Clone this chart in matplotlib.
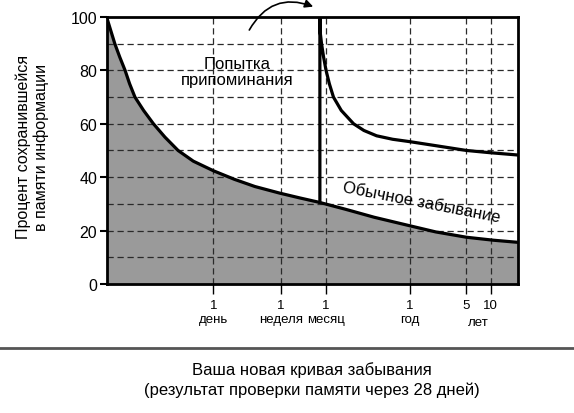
import matplotlib.pyplot as plt
import matplotlib.transforms as mtransforms

plt.rcParams["font.family"] = ["Liberation Sans", "DejaVu Sans"]

# x axis is a compressed (log-like) time scale, 0..100 across the plot
tick_pos = [25.9, 42.3, 53.3, 73.7, 87.3, 93.4]
tick_labels = ["1\nдень", "1\nнеделя", "1\nмесяц", "1\nгод", "5", "10"]
years_label_x = 90.3

# usual forgetting curve
forget_x = [0, 1.0, 1.9, 3.1, 4.4, 5.5, 6.8, 8.9, 11.3, 14.1, 17.3, 21.0, 25.9,
            31.0, 36.0, 42.1, 47.0, 51.6, 58.0, 65.0, 73.7, 80.0, 87.5, 94.0, 100]
forget_y = [99.5, 94.5, 90.0, 85.0, 80.0, 75.0, 70.0, 65.0, 60.0, 55.0, 50.0, 46.0,
            42.4, 39.2, 36.5, 34.0, 32.2, 30.6, 28.0, 25.0, 21.8, 19.5, 17.5, 16.4, 15.6]

# curve after the recall attempt
recall_x = [51.8, 51.8, 51.9, 52.2, 52.7, 53.3, 54.1, 55.1, 57.0, 60.0, 62.5,
            65.6, 69.5, 73.7, 80.0, 87.5, 93.0, 100]
recall_y = [30.6, 100, 94.0, 90.0, 85.0, 80.0, 75.0, 70.0, 65.0, 60.0, 57.5,
            55.5, 54.2, 53.3, 51.8, 50.0, 49.2, 48.3]

fig = plt.figure(figsize=(5.74, 4.14), dpi=100)
ax = fig.add_axes([0.1864, 0.3116, 0.716, 0.645])

ax.fill_between(forget_x, forget_y, 0, color="#9a9a9a", zorder=1, linewidth=0)
ax.plot(forget_x, forget_y, color="black", lw=2.3, zorder=3)
ax.plot(recall_x, recall_y, color="black", lw=2.3, zorder=3, solid_joinstyle="miter")

ax.set_xlim(0, 100)
ax.set_ylim(0, 100)

# dashed grid
for y in range(10, 100, 10):
    ax.axhline(y, color="#2a2a2a", lw=0.9, ls=(0, (5, 3)), zorder=2)
for x in tick_pos:
    ax.axvline(x, color="#2a2a2a", lw=0.9, ls=(0, (5, 3)), zorder=2)

ax.set_yticks(range(0, 101, 20))
ax.set_xticks(tick_pos)
ax.set_xticklabels(tick_labels, fontsize=9.5, linespacing=1.2, va="top")
ax.tick_params(axis="y", labelsize=11.5, length=5, width=1.5, pad=2)
ax.tick_params(axis="x", length=7, width=1.0, pad=4)
for s in ax.spines.values():
    s.set_linewidth(2)
    s.set_zorder(4)

trans = mtransforms.blended_transform_factory(ax.transData, ax.transAxes)
ax.text(years_label_x, -0.142, "лет", transform=trans, ha="center", va="center",
        fontsize=9.5)

ax.text(31.6, 79.5, "Попытка\nприпоминания", ha="center", va="center",
        fontsize=12, linespacing=1.1, zorder=5)
ax.text(76.4, 30.7, "Обычное забывание", ha="center", va="center",
        fontsize=12, rotation=-11, zorder=5)

ax.annotate("", xy=(50.8, 103.5), xytext=(34.3, 94.2),
            arrowprops=dict(arrowstyle="-|>", color="black", lw=1.2,
                            connectionstyle="arc3,rad=-0.45",
                            mutation_scale=12),
            annotation_clip=False, zorder=6)

fig.text(0.056, 0.645, "Процент сохранившейся\nв памяти информации",
         rotation=90, ha="center", va="center", fontsize=11.5,
         multialignment="center", linespacing=1.15)

fig.add_artist(plt.Line2D([0, 1], [0.157, 0.157], color="#555555", lw=2,
                          transform=fig.transFigure))
fig.text(0.544, 0.106, "Ваша новая кривая забывания", ha="center",
         va="center", fontsize=12)
fig.text(0.544, 0.058, "(результат проверки памяти через 28 дней)",
         ha="center", va="center", fontsize=12)

fig.savefig("out.png", dpi=100)
